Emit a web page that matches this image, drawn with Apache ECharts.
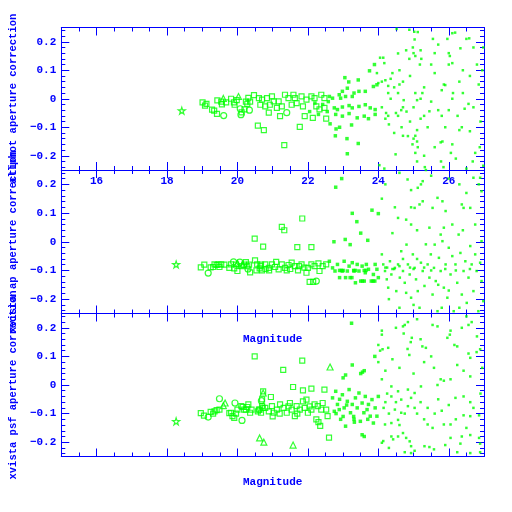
<!DOCTYPE html>
<html><head><meta charset="utf-8">
<script src="https://cdn.jsdelivr.net/npm/echarts@6/dist/echarts.min.js"></script>
<style>html,body{margin:0;padding:0;background:#fff}#c{width:512px;height:512px}</style>
</head><body><div id="c"></div>
<script>
const xMajorTicks=[16,18,20,22,24,26];
const xTickLabels=['16','18','20','22','24','26'];
const xMinorTicks=[15.5,16,16.5,17,17.5,18,18.5,19,19.5,20,20.5,21,21.5,22,22.5,23,23.5,24,24.5,25,25.5,26,26.5];
const yMajorTicks=[-0.2,-0.1,0,0.1,0.2];
const yTickLabels=['\u22120.2','\u22120.1','0','0.1','0.2'];
const yMinorTicks=[-0.24,-0.22,-0.2,-0.18,-0.16,-0.14,-0.12,-0.1,-0.08,-0.06,-0.04,-0.02,0,0.02,0.04,0.06,0.08,0.1,0.12,0.14,0.16,0.18,0.2,0.22,0.24];
const yNames=['allphot aperture correction','xvista ap aperture correction','xvista psf aperture correction'];
const xName='Magnitude';

// ---- top panel
const topStars=[[18.42,-0.042]];
const topTriangles=[[19.60,0.001],[20.03,0.008]];
const topCircles=[[19.61,-0.059],[20.08,-0.035],[20.10,-0.056],[20.34,-0.040],[21.40,-0.049]];
const topSquares=[[19.01,-0.013],[19.08,-0.024],[19.12,-0.018],[19.28,-0.038],[19.34,-0.042],[19.42,-0.053],[19.43,-0.006],[19.54,-0.010],[19.56,-0.020],[19.68,-0.013],[19.82,0.000],[19.90,-0.013],[19.92,-0.021],[19.98,-0.005],[20.12,-0.048],[20.20,-0.037],[20.24,-0.010],[20.28,-0.018],[20.31,0.003],[20.36,-0.010],[20.47,0.013],[20.58,-0.094],[20.61,0.002],[20.65,-0.021],[20.70,-0.003],[20.75,-0.110],[20.79,-0.027],[20.84,0.002],[20.89,-0.049],[20.92,-0.021],[20.98,0.008],[21.03,-0.009],[21.12,-0.032],[21.17,-0.009],[21.21,-0.061],[21.26,-0.027],[21.33,-0.163],[21.35,0.014],[21.45,0.002],[21.54,-0.021],[21.59,0.014],[21.63,0.002],[21.68,-0.015],[21.77,-0.099],[21.82,0.008],[21.86,-0.027],[21.91,-0.061],[21.96,-0.003],[22.10,0.008],[22.14,-0.067],[22.19,0.002],[22.24,-0.027],[22.33,-0.037],[22.38,0.014],[22.47,0.002],[22.52,-0.070],[22.47,-0.032]];
const topFilled=[[22.05,-0.045],[22.20,-0.015],[22.30,-0.055],[22.42,-0.020],[22.55,-0.045],[22.58,-0.010],[22.61,0.008],[22.70,0.002],[22.75,-0.032],[22.79,-0.055],[22.84,-0.038],[22.89,0.014],[22.93,0.002],[22.98,-0.029],[22.98,-0.061],[22.98,0.026],[23.07,0.008],[23.12,0.037],[23.17,-0.024],[23.17,-0.052],[23.26,-0.032],[23.26,0.008],[23.31,0.020],[23.40,-0.067],[23.45,-0.027],[23.45,0.026],[23.60,-0.061],[23.63,-0.021],[23.63,0.026],[23.72,-0.070],[23.77,-0.032],[23.86,0.043],[23.91,-0.055],[23.91,-0.038],[23.96,0.049],[22.63,-0.088],[22.78,-0.130],[22.80,-0.106],[22.90,-0.100],[23.05,0.074],[23.11,-0.140],[23.12,-0.193],[23.16,0.059],[23.24,-0.092],[23.43,0.066],[23.43,-0.157],[23.75,0.098],[23.89,0.120]];
const topFaint=[[23.96,0.090],[24.00,0.055],[24.05,0.144],[24.10,0.060],[24.14,0.144],[24.17,0.125],[24.20,0.065],[24.28,0.045],[24.35,0.070],[24.45,0.040],[24.56,0.159],[24.60,0.050],[24.79,0.170],[24.88,0.140],[25.03,0.208],[25.12,0.234],[25.00,0.160],[24.98,0.180],[25.05,0.150],[25.18,0.120],[25.20,0.170],[25.22,0.140],[25.55,0.210],[25.70,0.190],[25.96,0.210],[26.10,0.230],[26.18,0.232],[26.00,0.160],[26.03,0.150],[26.00,0.120],[26.10,0.125],[26.33,0.177],[26.50,0.210],[26.58,0.212],[26.70,0.180],[26.60,0.080],[26.56,-0.018],[26.70,-0.030],[26.45,-0.035],[26.60,-0.114],[26.37,-0.100],[26.30,-0.110],[26.10,-0.160],[26.06,-0.190],[26.88,-0.170],[26.68,-0.220],[26.50,-0.245],[26.10,0.000],[26.12,0.020],[25.86,0.050],[25.90,0.048],[25.80,0.030],[25.77,-0.153],[25.82,-0.150],[25.80,-0.060],[25.45,-0.044],[25.30,-0.060],[25.20,-0.070],[25.10,-0.110],[25.05,-0.130],[25.10,-0.150],[25.12,-0.170],[25.05,-0.190],[25.10,-0.220],[25.00,-0.140],[24.97,-0.160],[24.84,-0.131],[24.70,-0.130],[24.66,-0.100],[24.49,-0.195],[25.30,-0.200],[25.32,-0.240],[25.35,-0.250],[25.78,-0.220],[25.85,-0.240],[25.20,0.000],[25.25,0.020],[25.05,0.020],[25.10,-0.005],[25.00,-0.030],[24.72,-0.005],[24.70,-0.030],[24.80,-0.045],[24.56,0.020],[24.35,0.000],[24.28,0.020],[24.50,-0.050],[24.56,-0.060],[24.65,-0.040],[24.22,-0.050],[24.28,-0.060],[24.20,-0.070],[24.03,-0.233],[24.17,-0.245],[24.52,0.245],[24.88,0.242],[25.02,0.235],[26.98,0.180],[26.95,0.100],[26.85,0.050],[26.90,-0.080],[26.75,-0.190],[26.98,-0.235],[26.30,0.060],[26.25,-0.060],[25.60,0.090],[25.50,0.120],[25.40,-0.100],[25.60,-0.170],[25.90,-0.100],[26.20,-0.210],[24.40,0.090],[24.60,0.100],[24.70,0.060],[24.90,0.080],[25.30,0.040],[25.50,-0.010],[25.70,-0.040],[26.00,-0.040],[26.40,0.020],[26.80,0.120],[24.10,-0.030],[24.30,-0.090],[24.45,-0.120],[24.90,-0.080],[25.60,0.160],[26.40,0.100]];

// ---- middle panel
const midStars=[[18.26,-0.079]];
const midTriangles=[[20.00,-0.075],[20.15,-0.080]];
const midCircles=[[19.17,-0.109],[19.89,-0.070],[20.07,-0.071],[20.30,-0.095],[22.24,-0.137]];
const midSquares=[[18.96,-0.089],[19.06,-0.080],[19.24,-0.089],[19.31,-0.088],[19.35,-0.079],[19.41,-0.081],[19.46,-0.079],[19.49,-0.088],[19.54,-0.079],[19.63,-0.080],[19.77,-0.091],[19.82,-0.079],[19.91,-0.093],[19.96,-0.080],[20.00,-0.102],[20.11,-0.085],[20.19,-0.080],[20.24,-0.071],[20.28,-0.085],[20.33,-0.080],[20.36,-0.107],[20.49,0.011],[20.54,-0.100],[20.63,-0.093],[20.67,-0.080],[20.70,-0.100],[20.73,-0.017],[20.56,-0.079],[20.65,-0.085],[20.79,-0.079],[20.89,-0.091],[20.98,-0.079],[21.07,-0.088],[21.17,-0.096],[21.26,-0.079],[21.35,-0.091],[21.45,-0.081],[21.54,-0.073],[21.63,-0.085],[21.72,-0.100],[21.82,-0.079],[21.96,-0.108],[22.00,-0.091],[22.10,-0.079],[22.19,-0.085],[22.33,-0.102],[22.42,-0.085],[22.52,-0.079],[21.26,0.052],[21.33,0.040],[21.84,0.081],[21.70,-0.019],[22.10,-0.019],[20.90,-0.100],[21.10,-0.070],[21.40,-0.100],[21.90,-0.090],[22.30,-0.075],[22.05,-0.140],[22.15,-0.140],[20.50,-0.065],[20.80,-0.095],[21.50,-0.095],[21.75,-0.085]];
const midFilled=[[22.61,-0.068],[22.70,-0.091],[22.74,0.000],[22.77,-0.102],[22.79,0.190],[22.84,-0.079],[22.90,-0.125],[22.96,0.220],[22.98,-0.102],[23.03,-0.068],[23.06,0.008],[23.07,-0.125],[23.12,-0.102],[23.17,-0.085],[23.20,-0.010],[23.26,0.099],[23.26,-0.073],[23.31,-0.102],[23.35,-0.143],[23.39,0.070],[23.40,-0.079],[23.45,-0.102],[23.54,-0.085],[23.50,0.030],[23.60,-0.137],[23.63,-0.108],[23.66,-0.079],[23.72,-0.096],[23.70,0.005],[23.82,0.110],[23.86,-0.114],[23.90,-0.137],[23.91,-0.079],[23.96,-0.096],[24.00,0.098],[24.00,-0.125],[22.90,-0.100],[22.95,-0.100],[23.00,-0.100],[23.30,-0.100],[23.35,-0.100],[23.60,-0.100],[23.65,-0.100],[23.50,-0.137],[23.55,-0.137],[23.80,-0.137],[23.85,-0.137],[23.20,-0.125],[23.25,-0.125]];
const midFaint=[[24.10,-0.044],[24.14,-0.079],[24.19,-0.102],[24.24,-0.131],[24.28,-0.160],[24.33,-0.068],[24.37,-0.114],[24.47,-0.091],[24.51,-0.172],[24.56,-0.079],[24.61,-0.125],[24.65,-0.033],[24.70,-0.102],[24.75,-0.143],[24.79,-0.178],[24.84,-0.079],[24.89,-0.114],[24.93,-0.195],[24.98,-0.044],[25.03,-0.091],[25.07,-0.131],[25.12,-0.172],[25.17,-0.230],[25.21,-0.073],[25.26,-0.102],[25.31,-0.154],[25.35,-0.009],[25.40,-0.079],[25.45,-0.125],[25.49,-0.044],[25.54,-0.184],[25.58,-0.091],[25.63,-0.137],[25.68,-0.242],[25.72,-0.056],[25.77,-0.102],[25.82,0.002],[25.86,-0.160],[25.91,-0.079],[25.96,-0.195],[26.00,-0.021],[26.05,-0.114],[26.10,-0.050],[26.14,-0.242],[26.19,-0.079],[26.24,-0.143],[26.28,0.025],[26.33,-0.039],[26.37,-0.184],[26.42,-0.102],[26.47,-0.068],[26.51,-0.213],[26.56,-0.125],[26.61,-0.015],[26.65,-0.079],[26.70,-0.172],[26.75,-0.044],[26.79,-0.102],[26.84,-0.242],[26.89,-0.073],[26.93,-0.137],[26.98,-0.207],[26.93,0.002],[24.10,0.150],[24.47,0.120],[24.56,0.083],[24.79,0.077],[24.93,0.060],[24.83,0.217],[24.93,0.180],[25.12,0.188],[25.21,0.200],[25.26,0.211],[25.17,0.130],[25.03,0.118],[24.93,0.120],[25.26,0.141],[25.45,0.049],[25.54,0.118],[25.68,0.153],[25.82,0.141],[25.91,0.107],[25.86,0.049],[25.77,0.025],[26.10,0.060],[26.37,0.130],[26.42,0.118],[26.61,0.118],[26.89,0.223],[26.85,0.200],[26.70,0.223],[26.93,0.176],[26.30,0.200],[26.50,0.170],[26.00,0.220],[25.50,0.230],[24.60,0.240],[24.20,0.200],[26.75,0.060],[26.40,0.040],[25.10,0.040],[24.40,0.030],[25.60,-0.010],[24.80,-0.010],[24.20,-0.090],[24.25,-0.090],[24.40,-0.095],[24.45,-0.095],[24.60,-0.085],[24.90,-0.090],[25.00,-0.095],[25.30,-0.090],[25.50,-0.100],[25.90,-0.095],[26.20,-0.100],[26.60,-0.095],[24.30,-0.200],[24.60,-0.230],[25.00,-0.220],[25.80,-0.230],[26.30,-0.230],[24.70,-0.060],[25.10,-0.060],[25.70,-0.150],[26.00,-0.170]];

// ---- bottom panel
const botStars=[[18.26,-0.127]];
const botTriangles=[[19.60,-0.072],[19.65,-0.063],[20.63,-0.185],[20.73,-0.028],[21.58,-0.210],[20.75,-0.200],[22.63,0.063]];
const botCircles=[[19.17,-0.112],[19.49,-0.048],[19.93,-0.063],[20.13,-0.124],[20.68,-0.055]];
const botSquares=[[18.96,-0.098],[19.05,-0.107],[19.24,-0.094],[19.31,-0.100],[19.35,-0.092],[19.41,-0.088],[19.49,-0.086],[19.77,-0.098],[19.82,-0.097],[19.86,-0.109],[19.91,-0.115],[19.96,-0.100],[20.00,-0.086],[20.11,-0.074],[20.15,-0.077],[20.19,-0.086],[20.24,-0.086],[20.28,-0.077],[20.31,-0.068],[20.36,-0.097],[20.40,-0.086],[20.49,0.100],[20.58,-0.092],[20.63,-0.086],[20.67,-0.097],[20.72,-0.080],[20.61,-0.086],[20.70,-0.074],[20.79,-0.080],[20.89,-0.092],[20.98,-0.074],[21.03,-0.097],[21.12,-0.086],[21.21,-0.068],[21.31,-0.080],[21.40,-0.097],[21.49,-0.063],[21.54,-0.086],[21.63,-0.109],[21.68,-0.074],[21.77,-0.086],[21.86,-0.057],[21.91,-0.080],[21.96,-0.051],[22.00,-0.097],[22.10,-0.086],[22.19,-0.068],[22.24,-0.120],[22.28,-0.074],[22.38,-0.086],[22.42,-0.063],[22.47,-0.016],[22.52,-0.086],[22.56,-0.109],[21.84,0.085],[21.30,0.053],[20.73,-0.022],[20.95,-0.042],[21.58,-0.007],[21.86,-0.019],[22.10,-0.013],[20.70,-0.050],[22.35,-0.143],[22.30,-0.130],[22.60,-0.184],[21.00,-0.110],[21.20,-0.100],[21.45,-0.075],[21.70,-0.100],[22.05,-0.075]];
const botFilled=[[22.70,-0.045],[22.75,-0.092],[22.79,-0.022],[22.84,-0.068],[22.89,-0.086],[22.93,-0.120],[22.98,-0.034],[23.03,-0.080],[23.07,-0.144],[23.12,-0.057],[23.17,-0.016],[23.21,-0.097],[23.26,-0.068],[23.31,-0.120],[23.35,-0.045],[23.40,-0.080],[23.45,-0.028],[23.49,-0.127],[23.54,-0.063],[23.59,-0.097],[23.63,-0.040],[23.68,-0.086],[23.72,-0.068],[23.77,-0.109],[23.82,-0.051],[23.86,-0.133],[23.91,-0.080],[23.96,-0.109],[24.00,-0.040],[23.24,0.216],[23.26,0.070],[23.07,0.035],[23.00,0.025],[23.50,0.040],[23.55,0.045],[23.60,0.050],[23.30,-0.110],[23.32,-0.130],[23.54,-0.174],[23.60,-0.180],[23.90,0.100],[22.80,-0.100],[23.00,-0.110],[23.70,-0.120],[23.10,-0.070],[22.90,-0.050]];
const botFaint=[[24.00,0.140],[24.05,0.120],[24.12,0.125],[24.28,0.130],[24.10,0.190],[24.10,0.176],[24.50,0.200],[24.70,0.205],[24.75,0.210],[24.84,0.220],[24.72,0.180],[24.95,0.165],[24.92,0.150],[24.83,0.126],[24.88,0.105],[25.20,0.160],[25.25,0.135],[25.35,0.130],[25.54,0.210],[25.68,0.205],[26.05,0.190],[26.03,0.176],[26.16,0.140],[26.24,0.135],[25.96,0.165],[26.37,0.200],[26.56,0.210],[26.65,0.220],[26.56,0.110],[26.61,0.095],[26.79,0.115],[26.89,0.125],[26.24,0.070],[26.42,0.050],[26.61,0.030],[25.58,0.060],[25.77,0.020],[25.86,0.015],[26.05,0.020],[25.68,0.000],[26.19,-0.045],[26.42,-0.040],[26.61,-0.060],[26.42,-0.106],[26.61,-0.109],[26.86,-0.106],[25.40,-0.138],[25.54,-0.150],[25.86,-0.138],[26.05,-0.138],[26.05,-0.185],[26.37,-0.180],[26.61,-0.175],[26.86,-0.185],[26.33,-0.205],[26.89,-0.205],[26.24,-0.235],[26.61,-0.238],[26.89,-0.235],[25.31,-0.214],[25.45,-0.217],[25.58,-0.225],[24.75,-0.235],[24.93,-0.238],[25.03,-0.230],[24.89,-0.197],[24.93,-0.214],[24.56,-0.180],[24.70,-0.168],[24.79,-0.185],[24.37,-0.180],[24.42,-0.190],[24.10,-0.202],[24.14,-0.196],[24.19,-0.138],[24.37,-0.133],[24.56,-0.122],[24.47,-0.086],[24.65,-0.097],[24.84,-0.074],[25.03,-0.080],[24.37,-0.040],[24.65,-0.051],[24.93,-0.045],[24.37,-0.005],[24.56,-0.022],[24.84,-0.016],[25.03,-0.028],[25.21,-0.005],[24.20,-0.060],[24.30,-0.100],[24.15,-0.080],[24.50,-0.060],[24.60,-0.140],[24.75,-0.100],[25.10,-0.100],[25.20,-0.060],[25.30,-0.120],[25.40,-0.080],[25.60,-0.100],[25.70,-0.050],[25.80,-0.090],[26.00,-0.070],[26.20,-0.120],[26.50,-0.150],[26.70,-0.080],[26.90,-0.030],[24.20,0.050],[24.40,0.090],[24.60,0.060],[25.00,0.040],[25.30,0.080],[25.50,0.100],[26.80,0.170],[26.95,0.060],[24.30,-0.220],[25.90,-0.210],[26.50,0.240],[25.10,0.230],[24.00,0.080],[24.10,0.020],[24.25,-0.030]];

const panels=[
 {stars:topStars,tri:topTriangles,circ:topCircles,sq:topSquares,filled:topFilled,faint:topFaint},
 {stars:midStars,tri:midTriangles,circ:midCircles,sq:midSquares,filled:midFilled,faint:midFaint},
 {stars:botStars,tri:botTriangles,circ:botCircles,sq:botSquares,filled:botFilled,faint:botFaint}
];

const BLUE='#0000ff', GREEN='#00ff00';
const FONT='Liberation Mono';
const txt={color:BLUE,fontFamily:FONT,fontSize:11,fontWeight:'bold'};
const grids=[{left:54,width:430,top:27.5,height:142.5},{left:54,width:430,top:170,height:143.5},{left:54,width:430,top:313.5,height:143}];
const xAxis=[],yAxis=[],series=[];
const STAR='path://M0,-1L0.2245,-0.309L0.951,-0.309L0.363,0.118L0.588,0.809L0,0.382L-0.588,0.809L-0.363,0.118L-0.951,-0.309L-0.2245,-0.309Z';

grids.forEach((g,gi)=>{
 const bx={type:'value',gridIndex:gi,min:15,max:27,splitLine:{show:false},axisLabel:{show:false},axisLine:{show:false,onZero:false}};
 const by={type:'value',gridIndex:gi,min:-0.25,max:0.25,splitLine:{show:false},axisLabel:{show:false},axisLine:{show:false,onZero:false}};
 const line={show:true,onZero:false,lineStyle:{color:BLUE,width:1}};
 const maj=(vals)=>({show:true,inside:true,length:8,customValues:vals,lineStyle:{color:BLUE,width:1}});
 const min=(vals)=>({show:true,inside:true,length:4,customValues:vals,lineStyle:{color:BLUE,width:1}});
 xAxis.push(Object.assign({},bx,{position:'bottom',axisLine:line,axisTick:maj(xMajorTicks),
   axisLabel: gi===0?Object.assign({show:true,customValues:xMajorTicks,margin:6,formatter:(v)=>xTickLabels[xMajorTicks.indexOf(v)]},txt):{show:false},
   name: gi>0?xName:'',nameLocation:'middle',nameGap:20,nameTextStyle:txt}));
 xAxis.push(Object.assign({},bx,{position:'bottom',axisTick:min(xMinorTicks)}));
 xAxis.push(Object.assign({},bx,{position:'top',axisLine:line,axisTick:maj(xMajorTicks)}));
 xAxis.push(Object.assign({},bx,{position:'top',axisTick:min(xMinorTicks)}));
 yAxis.push(Object.assign({},by,{position:'left',axisLine:line,axisTick:maj(yMajorTicks),
   axisLabel:Object.assign({show:true,customValues:yMajorTicks,margin:5,formatter:(v)=>{let i=yMajorTicks.findIndex(t=>Math.abs(t-v)<1e-9);return yTickLabels[i];}},txt),
   name:yNames[gi],nameLocation:'middle',nameGap:42,nameTextStyle:Object.assign({},txt,{fontSize:10.5})}));
 yAxis.push(Object.assign({},by,{position:'left',axisTick:min(yMinorTicks)}));
 yAxis.push(Object.assign({},by,{position:'right',axisLine:line,axisTick:maj(yMajorTicks)}));
 yAxis.push(Object.assign({},by,{position:'right',axisTick:min(yMinorTicks)}));
 const p=panels[gi];
 const xi=gi*4, yi=gi*4;
 const base={type:'scatter',xAxisIndex:xi,yAxisIndex:yi,clip:true,silent:true};
 series.push(Object.assign({},base,{data:p.faint,symbol:'rect',symbolSize:2.5,itemStyle:{color:GREEN}}));
 series.push(Object.assign({},base,{data:p.filled,symbol:'rect',symbolSize:3.5,itemStyle:{color:GREEN}}));
 const open={color:'rgba(0,0,0,0)',borderColor:GREEN,borderWidth:1.2};
 series.push(Object.assign({},base,{data:p.sq,symbol:'rect',symbolSize:5,itemStyle:open}));
 series.push(Object.assign({},base,{data:p.circ,symbol:'circle',symbolSize:6,itemStyle:open}));
 series.push(Object.assign({},base,{data:p.tri,symbol:'triangle',symbolSize:6,itemStyle:open}));
 series.push(Object.assign({},base,{data:p.stars,symbol:STAR,symbolSize:7,itemStyle:open}));
});

const chart=echarts.init(document.getElementById('c'),null,{renderer:'canvas'});
chart.setOption({animation:false,backgroundColor:'#fff',grid:grids,xAxis,yAxis,series});
</script></body></html>
